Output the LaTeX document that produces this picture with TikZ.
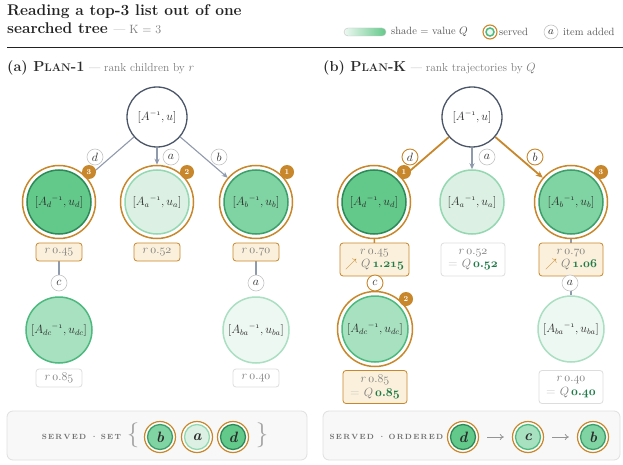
\documentclass[tikz,border=0pt]{standalone}
\usetikzlibrary{arrows.meta}
\pgfdeclarelayer{bg}\pgfdeclarelayer{mid}
\pgfsetlayers{bg,mid,main}
\definecolor{ink}{HTML}{2B2B2B}
\definecolor{titlec}{HTML}{222222}
\definecolor{orn}{HTML}{C8872B}
\definecolor{ornfill}{HTML}{FBF0DB}
\definecolor{slate}{HTML}{4A5568}
\definecolor{edgegray}{HTML}{8F9AAD}
\definecolor{lblgray}{HTML}{C4C4C4}
\definecolor{txtgray}{HTML}{7A7A7A}
\definecolor{legc}{HTML}{555555}
\definecolor{qgreen}{HTML}{1E7B47}
\definecolor{gD}{HTML}{63C98A}\definecolor{gDb}{HTML}{2D8A57}
\definecolor{gB}{HTML}{80D3A2}\definecolor{gBb}{HTML}{3C9F69}
\definecolor{gDC}{HTML}{A7E1C0}\definecolor{gDCb}{HTML}{4DB97F}
\definecolor{gA}{HTML}{DCF1E4}\definecolor{gAb}{HTML}{93D8B1}
\definecolor{gBA}{HTML}{EEF8F2}\definecolor{gBAb}{HTML}{AADFC2}
\definecolor{panelfill}{HTML}{F8F8F8}
\definecolor{panelline}{HTML}{E0E0E0}
\definecolor{boxw}{HTML}{DDDDDD}
\definecolor{ptext}{HTML}{707070}
\newcommand{\osf}[1]{\ensuremath{\mathnormal{#1}}}
\newcommand{\bosf}[1]{\mbox{\boldmath$\mathnormal{#1}$}}
\newcommand{\rv}[1]{{\color{txtgray}$r$\,\osf{#1}}}
\newcommand{\qv}[1]{{\color{txtgray}$Q$}\,{\color{qgreen}\bosf{#1}}}
\newcommand{\upq}{{\color{orn}$\nearrow$}}
\newcommand{\eqq}{{\color{lblgray}=}}
\newcommand{\stl}[1]{$[{A_{#1}}^{-\mathnormal{1}},u_{#1}]$}
\def\lsp#1{\lspA#1\relax}
\def\lspA#1{\ifx#1\relax\else#1\kern1.3pt\expandafter\lspA\fi}
\begin{document}
\begin{tikzpicture}[x=1pt,y=-1pt,
  every node/.style={text=ink},
  rootn/.style={circle, draw=slate, line width=1.3pt, fill=white, minimum size=60pt, inner sep=0pt, font=\fontsize{12}{12}\selectfont},
  st/.style 2 args={circle, fill=#1, draw=#2, line width=1.5pt, minimum size=64pt, inner sep=0pt, font=\fontsize{12}{12}\selectfont},
  ring/.style={draw=orn, line width=1.5pt, fill=white},
  badge/.style={circle, fill=orn, text=white, minimum size=14pt, inner sep=0pt, font=\fontsize{7.5}{7.5}\selectfont\bfseries},
  elbl/.style={circle, draw=lblgray, fill=white, line width=0.6pt, minimum size=16pt, inner sep=0pt, font=\fontsize{12}{12}\selectfont},
  elblo/.style={elbl, draw=orn, line width=0.9pt},
  rbox/.style={rounded corners=3pt, draw=orn, fill=ornfill, line width=0.8pt, minimum width=46pt, minimum height=18pt, inner sep=0pt, font=\fontsize{12.5}{13.5}\selectfont},
  rboxw/.style={rbox, draw=boxw, fill=white},
  rbox2/.style={rbox, align=center, minimum width=64pt, minimum height=33pt, inner xsep=5pt},
  rbox2w/.style={rbox2, draw=boxw, fill=white},
  edge/.style={draw=edgegray, line width=1.1pt},
  oedge/.style={draw=orn, line width=1.8pt},
  garrow/.style={-{Stealth[length=6pt,width=5pt]}},
  legend/.style={anchor=west, inner sep=0pt, text=legc, font=\fontsize{10.5}{12}\selectfont},
  panel/.style={draw=panelline, fill=panelfill, line width=0.8pt, rounded corners=6pt, inner sep=0pt},
  pcirc/.style 2 args={circle, fill=#1, draw=#2, line width=1.3pt, minimum size=25pt, inner sep=0pt, font=\fontsize{15}{15}\selectfont\bfseries\itshape},
  ptxt/.style={inner sep=0pt, text=ptext, font=\fontsize{7.5}{8}\selectfont\bfseries},
  brace/.style={inner sep=0pt, text=txtgray!70, font=\fontsize{30}{30}\selectfont},
  parrow/.style={draw=txtgray!80, line width=0.8pt, -{To[length=4pt,width=6pt]}, shorten <=11pt, shorten >=11pt}
]
\useasboundingbox (0,0) rectangle (623,465);
\begin{pgfonlayer}{bg}
\fill[white] (0,0) rectangle (623,465);
\end{pgfonlayer}

% ---------- title and legend
\node[anchor=north west, inner sep=0pt, align=left, font=\fontsize{15.5}{18.5}\selectfont\bfseries, text=titlec] (title) at (7,4)
  {Reading a top-3 list out of one\\searched tree {\mdseries\fontsize{12}{12}\selectfont\color{txtgray} --- K = 3}};
\draw[titlec, line width=0.9pt] (7,47.5) -- (623,47.5);

\draw[draw=lblgray, line width=0.4pt, rounded corners=4pt, left color=gBA, right color=gD] (344,28) rectangle (386,36);
\node[legend] (legshade) at (391,32) {shade = value $Q$};
\node[circle, draw=orn, line width=1.1pt, fill=white, minimum size=14pt, inner sep=0pt] (legring) at (490,32) {};
\node[circle, draw=gDCb, line width=1.5pt, fill=gBA, minimum size=8pt, inner sep=0pt] (legin) at (490,32) {};
\node[legend] (legserved) at (499,32) {served};
\node[elbl, minimum size=14pt, font=\fontsize{10.5}{12}\selectfont] (legitem) at (551,32) {$a$};
\node[legend] (legadd) at (563,32) {item added};

% ---------- headings
\node[anchor=base west, inner sep=0pt, font=\fontsize{14.5}{15}\selectfont] (heada) at (7,72)
  {\textbf{(a) P{\fontsize{11}{11}\selectfont LAN}-1} {\color{txtgray}\fontsize{11.5}{12}\selectfont --- rank children by $r$}};
\node[anchor=base west, inner sep=0pt, font=\fontsize{14.5}{15}\selectfont] (headb) at (323,72)
  {\textbf{(b) P{\fontsize{11}{11}\selectfont LAN}-K} {\color{txtgray}\fontsize{11.5}{12}\selectfont --- rank trajectories by $Q$}};

% ---------- tree (a)
\node[rootn] (ar) at (157,117) {$[A^{-\mathnormal{1}},u]$};
\node[st={gD}{gDb}] (ad) at (59,202) {\stl{d}};
\node[st={gA}{gAb}] (aa) at (157,202) {\stl{a}};
\node[st={gB}{gBb}] (ab) at (256,202) {\stl{b}};
\node[rbox] (ard) at (59,252) {\rv{0.45}};
\node[rbox] (ara) at (157,252) {\rv{0.52}};
\node[rbox] (arb) at (256,252) {\rv{0.70}};
\node[elbl] (alc) at (59,283) {$c$};
\node[elbl] (alba) at (256,283) {$a$};
\node[st={gDC}{gDCb}, minimum size=66pt] (adc) at (59,330) {\stl{dc}};
\node[st={gBA}{gBAb}, minimum size=66pt] (aba) at (256,330) {\stl{ba}};
\node[rboxw] (ardc) at (59,378) {\rv{0.85}};
\node[rboxw] (arba) at (256,378) {\rv{0.40}};
\node[elbl] (ald) at (95,157) {$d$};
\node[elbl] (ala) at (171,157) {$a$};
\node[elbl] (alb) at (219,157) {$b$};
\node[badge] (abd) at (89,172) {3};
\node[badge] (abaa) at (187,172) {2};
\node[badge] (abb) at (287,172) {1};

% ---------- tree (b)
\node[rootn] (br) at (472,117) {$[A^{-\mathnormal{1}},u]$};
\node[st={gD}{gDb}] (bd) at (374,202) {\stl{d}};
\node[st={gA}{gAb}] (ba) at (472,202) {\stl{a}};
\node[st={gB}{gBb}] (bb) at (571,202) {\stl{b}};
\node[rbox2] (brd) at (374.5,259.5) {\rv{0.45}\\\upq\ \qv{1.215}};
\node[rbox2w] (bra) at (473,259.5) {\rv{0.52}\\\eqq\ \qv{0.52}};
\node[rbox2] (brb) at (571,259.5) {\rv{0.70}\\\upq\ \qv{1.06}};
\node[elblo] (blc) at (375,283) {$c$};
\node[elbl] (blba) at (570,283) {$a$};
\node[st={gDC}{gDCb}, minimum size=66pt] (bdc) at (375,329) {\stl{dc}};
\node[st={gBA}{gBAb}, minimum size=66pt] (bba) at (571,329) {\stl{ba}};
\node[rbox2] (brdc) at (375,387) {\rv{0.85}\\\eqq\ \qv{0.85}};
\node[rbox2w] (brba) at (571,387) {\rv{0.40}\\\eqq\ \qv{0.40}};
\node[elblo] (bld) at (410,157) {$d$};
\node[elbl] (bla) at (487,157) {$a$};
\node[elblo] (blb) at (535,157) {$b$};
\node[badge] (bbd) at (404,172) {1};
\node[badge] (bbb) at (601,172) {3};
\node[badge] (bbdc) at (406,299) {2};

% ---------- panels content
\node[ptxt] (pat) at (82,437) {\lsp{SERVED}\ \textperiodcentered\ \lsp{SET}};
\node[brace] (pal) at (133,435) {$\{$};
\node[brace] (par) at (262,435) {$\}$};
\node[pcirc={gB}{gBb}] (pab) at (160,437) {b};
\node[pcirc={gA}{gAb}] (paa) at (197,437) {a};
\node[pcirc={gD}{gDb}] (pad) at (233,437) {d};
\node[ptxt] (pbt) at (387,437) {\lsp{SERVED}\ \textperiodcentered\ \lsp{ORDERED}};
\node[pcirc={gD}{gDb}] (pbd) at (463,437) {d};
\node[pcirc={gDC}{gDCb}] (pbc) at (528,437) {c};
\node[pcirc={gB}{gBb}] (pbb) at (593,437) {b};

% ---------- background: panels and connectors
\begin{pgfonlayer}{bg}
\node[panel, minimum width=300pt, minimum height=49pt] (pana) at (157,435.5) {};
\node[panel, minimum width=297pt, minimum height=49pt] (panb) at (471.5,435.5) {};
\draw[edge, garrow, shorten >=4.5pt] (ar) -- (ad);
\draw[edge, garrow, shorten >=4.5pt] (ar) -- (aa);
\draw[edge, garrow, shorten >=4.5pt] (ar) -- (ab);
\draw[edge] (ard) -- (alc);
\draw[edge] (arb) -- (alba);
\draw[oedge, -{Stealth[length=7pt,width=6pt]}, shorten >=4.5pt] (br) -- (bd);
\draw[edge, garrow] (br) -- (ba);
\draw[oedge, -{Stealth[length=7pt,width=6pt]}, shorten >=4.5pt] (br) -- (bb);
\draw[oedge, line width=1.4pt] (bd) -- (bdc);
\draw[edge] (bb) -- (bba);
\draw[parrow] (pbd) -- (pbc);
\draw[parrow] (pbc) -- (pbb);
\end{pgfonlayer}

% ---------- served rings
\begin{pgfonlayer}{mid}
\foreach \n in {ad,aa,ab,bd,bb} \draw[ring] (\n.center) circle (36.5);
\draw[ring] (bdc.center) circle (37.5);
\foreach \n in {pab,paa,pad,pbd,pbc,pbb} \draw[ring, line width=1.2pt] (\n.center) circle (15.5);
\end{pgfonlayer}
\end{tikzpicture}
\end{document}
